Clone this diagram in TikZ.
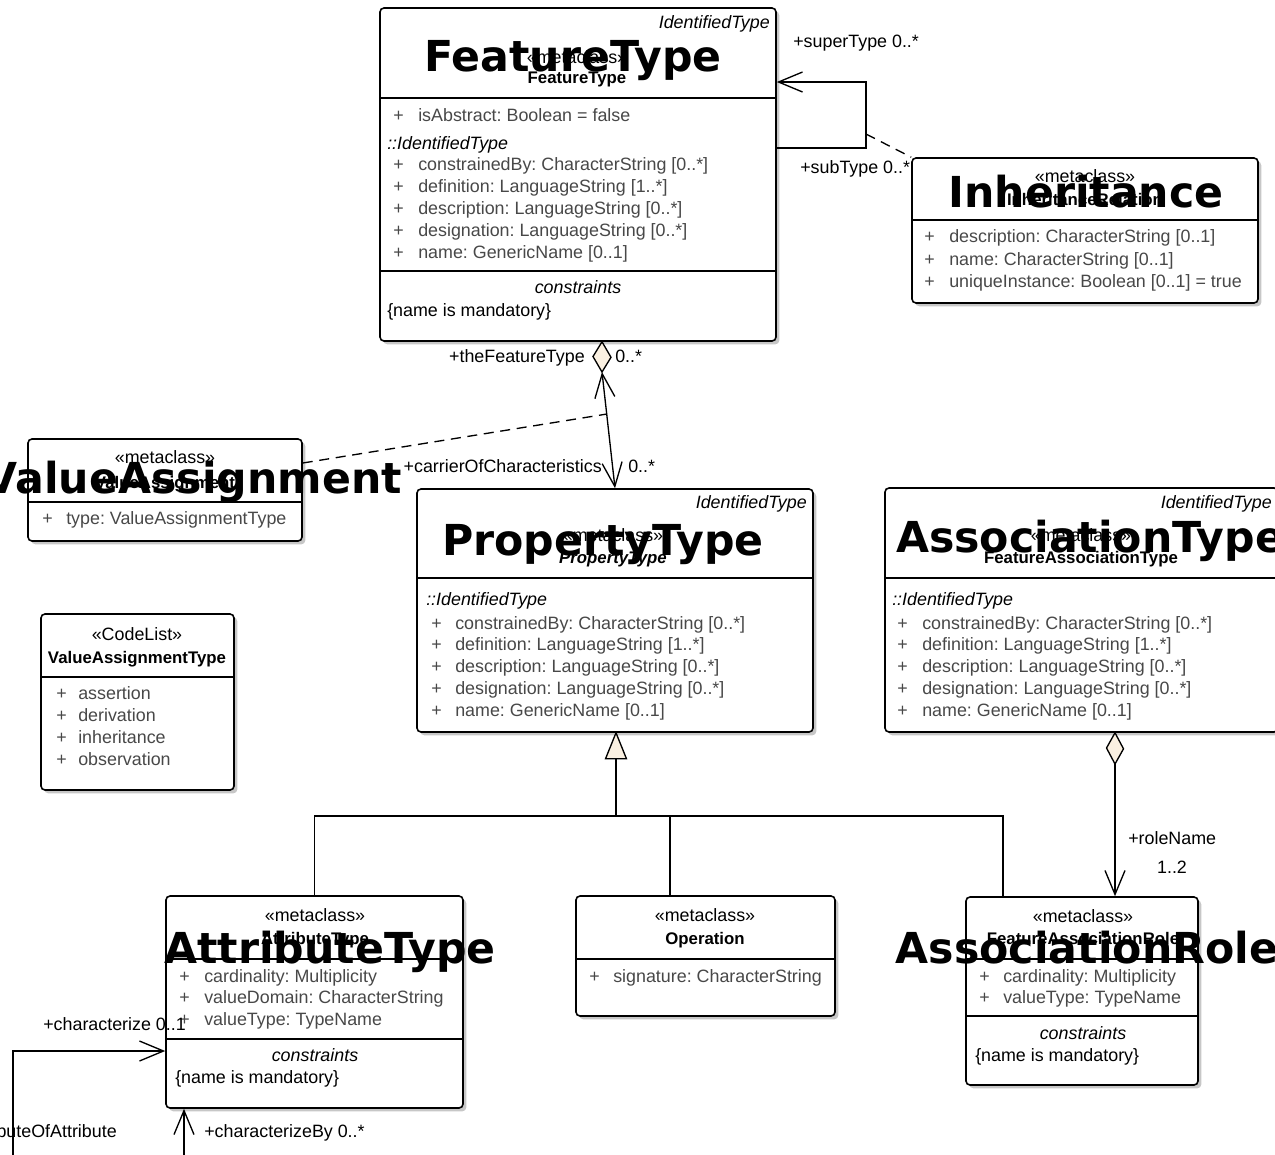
\documentclass[tikz,border=0pt]{standalone}
\usepackage{fontspec}
\setmainfont{Liberation Sans}
\newfontfamily\bigfont{DejaVu Sans}
\usetikzlibrary{fit,shadows,arrows.meta}
\definecolor{cream}{RGB}{250,240,225}
\definecolor{attrgray}{RGB}{72,72,72}
\frenchspacing
\newcommand{\rf}{\fontsize{13.4}{15}\selectfont}
\newcommand{\bfnt}{\fontsize{12.6}{15}\selectfont\bfseries}
\tikzset{
  cls/.style={draw, line width=1.2pt, fill=white, rounded corners=3pt, inner sep=0pt,
    drop shadow={shadow xshift=2.5pt,shadow yshift=-2.5pt,fill=black!22,opacity=1}},
  divl/.style={line width=1pt},
  txt/.style={inner sep=0pt, font=\rf},
  attr/.style={txt, text=attrgray, anchor=base west},
  lbl/.style={txt, anchor=base west},
  ctr/.style={txt, anchor=base},
  bigtxt/.style={inner sep=0pt, anchor=base, font=\bigfont\bfseries\fontsize{32}{38}\selectfont},
  conn/.style={line width=1pt},
  dconn/.style={line width=1pt, dash pattern=on 7.5pt off 5pt},
  barb/.tip={Straight Barb[length=18pt,width=15pt,line width=1pt]}
}
\newcommand{\crow}[5]{%
  \node[attr] (#1p) at (#2,#4) {+};
  \node[attr] (#1) at (#3,#4) {#5};}
\begin{document}
\begin{tikzpicture}[x=0.75pt,y=-0.75pt]
\useasboundingbox (0,0) rectangle (1275,1154);
\clip (0,0) rectangle (1275,1154);

% ---------- class boxes ----------
\node[cls, fit={(380,8) (776,341)}] (ft) {};
\node[cls, fit={(912,158) (1258,303)}] (inh) {};
\node[cls, fit={(28,439) (302,541)}] (va) {};
\node[cls, fit={(417,489) (813,732)}] (pt) {};
\node[cls, fit={(885,488) (1278,732)}] (at) {};
\node[cls, fit={(41,614) (234,790)}] (vat) {};
\node[cls, fit={(166,896) (463,1108)}] (atr) {};
\node[cls, fit={(576,896) (835,1016)}] (op) {};
\node[cls, fit={(966,897) (1198,1085)}] (far) {};

% ---------- dividers ----------
\draw[divl] (380,98) -- (776,98);
\draw[divl] (380,271) -- (776,271);
\draw[divl] (912,220) -- (1258,220);
\draw[divl] (28,502) -- (302,502);
\draw[divl] (417,578) -- (813,578);
\draw[divl] (885,578) -- (1278,578);
\draw[divl] (41,677) -- (234,677);
\draw[divl] (166,959) -- (463,959);
\draw[divl] (166,1039) -- (463,1039);
\draw[divl] (576,959) -- (835,959);
\draw[divl] (966,959) -- (1198,959);
\draw[divl] (966,1016) -- (1198,1016);

% ---------- FeatureType ----------
\node[txt, anchor=base east, font=\rf\itshape] (ftid) at (770,28) {IdentifiedType};
\node[ctr] (ftst) at (577,63) {«metaclass»};
\node[ctr, font=\bfnt] (ftnm) at (577,83) {FeatureType};
\crow{fta}{393}{418}{121}{isAbstract: Boolean = false}
\node[lbl, font=\rf\itshape] (ftit) at (387,149) {::IdentifiedType};
\crow{ftb}{393}{418}{170}{constrainedBy: CharacterString [0..*]}
\crow{ftc}{393}{418}{192}{definition: LanguageString [1..*]}
\crow{ftd}{393}{418}{214}{description: LanguageString [0..*]}
\crow{fte}{393}{418}{236}{designation: LanguageString [0..*]}
\crow{ftf}{393}{418}{258}{name: GenericName [0..1]}
\node[ctr, font=\rf\itshape] (ftcs) at (578,293) {constraints};
\node[lbl] (ftcn) at (387,316) {\{name is mandatory\}};

% ---------- Inheritance ----------
\node[ctr] (inhst) at (1085,182) {«metaclass»};
\node[ctr, font=\bfnt] (inhnm) at (1085,205) {InheritanceRelation};
\crow{inha}{924}{949}{242}{description: CharacterString [0..1]}
\crow{inhb}{924}{949}{265}{name: CharacterString [0..1]}
\crow{inhc}{924}{949}{287}{uniqueInstance: Boolean [0..1] = true}

% ---------- ValueAssignment ----------
\node[ctr] (vast) at (165,463) {«metaclass»};
\node[ctr, font=\bfnt] (vanm) at (165,488) {ValueAssignment};
\crow{vaa}{42}{66}{524}{type: ValueAssignmentType}

% ---------- PropertyType ----------
\node[txt, anchor=base east, font=\rf\itshape] (ptid) at (807,508) {IdentifiedType};
\node[ctr] (ptst) at (613,541) {«metaclass»};
\node[ctr, font=\bfnt\itshape] (ptnm) at (613,563) {PropertyType};
\node[lbl, font=\rf\itshape] (ptit) at (426,605) {::IdentifiedType};
\crow{pta}{431}{455}{629}{constrainedBy: CharacterString [0..*]}
\crow{ptb}{431}{455}{650}{definition: LanguageString [1..*]}
\crow{ptc}{431}{455}{672}{description: LanguageString [0..*]}
\crow{ptd}{431}{455}{694}{designation: LanguageString [0..*]}
\crow{pte}{431}{455}{716}{name: GenericName [0..1]}

% ---------- FeatureAssociationType ----------
\node[txt, anchor=base east, font=\rf\itshape] (atid) at (1272,508) {IdentifiedType};
\node[ctr] (atst) at (1081,541) {«metaclass»};
\node[ctr, font=\bfnt] (atnm) at (1081,563) {FeatureAssociationType};
\node[lbl, font=\rf\itshape] (atit) at (892,605) {::IdentifiedType};
\crow{ata}{897}{922}{629}{constrainedBy: CharacterString [0..*]}
\crow{atb}{897}{922}{650}{definition: LanguageString [1..*]}
\crow{atc}{897}{922}{672}{description: LanguageString [0..*]}
\crow{atd}{897}{922}{694}{designation: LanguageString [0..*]}
\crow{ate}{897}{922}{716}{name: GenericName [0..1]}

% ---------- ValueAssignmentType ----------
\node[ctr] (vatst) at (137,640) {«CodeList»};
\node[ctr, font=\bfnt] (vatnm) at (137,663) {ValueAssignmentType};
\crow{vata}{56}{78}{699}{assertion}
\crow{vatb}{56}{78}{721}{derivation}
\crow{vatc}{56}{78}{743}{inheritance}
\crow{vatd}{56}{78}{765}{observation}

% ---------- AttributeType ----------
\node[ctr] (atrst) at (315,921) {«metaclass»};
\node[ctr, font=\bfnt] (atrnm) at (315,944) {AttributeType};
\crow{atra}{179}{204}{982}{cardinality: Multiplicity}
\crow{atrb}{179}{204}{1003}{valueDomain: CharacterString}
\crow{atrc}{179}{204}{1025}{valueType: TypeName}
\node[ctr, font=\rf\itshape] (atrcs) at (315,1061) {constraints};
\node[lbl] (atrcn) at (175,1083) {\{name is mandatory\}};

% ---------- Operation ----------
\node[ctr] (opst) at (705,921) {«metaclass»};
\node[ctr, font=\bfnt] (opnm) at (705,944) {Operation};
\crow{opa}{589}{613}{982}{signature: CharacterString}

% ---------- FeatureAssociationRole ----------
\node[ctr] (farst) at (1083,922) {«metaclass»};
\node[ctr, font=\bfnt] (farnm) at (1083,944) {FeatureAssociationRole};
\crow{fara}{979}{1003}{982}{cardinality: Multiplicity}
\crow{farb}{979}{1003}{1003}{valueType: TypeName}
\node[ctr, font=\rf\itshape] (farcs) at (1083,1039) {constraints};
\node[lbl] (farcn) at (975,1061) {\{name is mandatory\}};

% ---------- connectors ----------
% FeatureType self association (superType / subType)
\coordinate (sA) at (866,148);
\coordinate (sB) at (866,82);
\coordinate (sM) at (866,134);
\draw[conn, -barb] (ft.east |- sA) -- (sA) -- (sB) -- (ft.east |- sB);
\draw[dconn] (sM) -- (inh.north west);
\node[lbl] (lsup) at (793,47) {+superType 0..*};
\node[lbl] (lsub) at (800,173) {+subType 0..*};

% FeatureType -- PropertyType aggregation
\coordinate (dA) at (602,372);
\draw[conn, fill=cream] (ft.south -| dA) -- ++(9,15.5) -- (dA) -- ++(-9,-15.5) -- cycle;
\draw[conn, barb-barb] (dA) -- (pt.north);
\node[txt, anchor=base east] (lfeat) at (585,362) {+theFeatureType};
\node[lbl] (lfm) at (615,362) {0..*};
\node[txt, anchor=base east] (lcar) at (602,472) {+carrierOfCharacteristics};
\node[lbl] (lcm) at (628,472) {0..*};

% ValueAssignment association class link
\coordinate (vaD) at (302,463);
\coordinate (aM) at (607,414);
\draw[dconn] (va.east |- vaD) -- (aM);

% Generalization tree
\coordinate (tri) at (616,758);
\coordinate (gj) at (616,816);
\coordinate (gop) at (670,816);
\coordinate (gfar) at (1003,816);
\draw[conn, fill=cream] (pt.south -| tri) -- ++(10.5,26) -- ++(-21,0) -- cycle;
\draw[conn] (tri) -- (gj);
\draw[conn] (atr.north) |- (gj) -| (far.north -| gfar);
\draw[conn] (op.north -| gop) -- (gop);

% FeatureAssociationType -- FeatureAssociationRole composition
\coordinate (rl) at (1115,764);
\draw[conn, fill=cream] (at.south -| rl) -- ++(8.5,16) -- (rl) -- ++(-8.5,-16) -- cycle;
\draw[conn, -barb] (rl) -- (far.north -| rl);
\node[lbl] (lrole) at (1128,844) {+roleName};
\node[ctr] (lrm) at (1172,873) {1..2};

% AttributeType self association
\coordinate (aA) at (184,1180);
\coordinate (aB) at (13,1180);
\coordinate (aC) at (13,1051);
\draw[conn, barb-barb] (atr.south -| aA) -- (aA) -- (aB) -- (aC) -- (atr.west |- aC);
\node[lbl] (lchar) at (43,1030) {+characterize 0..1};
\node[lbl] (lcharby) at (204,1137) {+characterizeBy 0..*};
\node[txt, anchor=base east] (lattr) at (117,1137) {+attributeOfAttribute};

% ---------- large overlaid titles ----------
\node[bigtxt] (ftbig) at (573,71) {FeatureType};
\node[bigtxt] (inhbig) at (1086,207) {Inheritance};
\node[bigtxt, anchor=base east] (vabig) at (402,493) {ValueAssignment};
\node[bigtxt] (ptbig) at (603,555) {PropertyType};
\node[bigtxt] (atbig) at (1090,552) {AssociationType};
\node[bigtxt] (atrbig) at (330,963) {AttributeType};
\node[bigtxt] (farbig) at (1087,963) {AssociationRole};
\end{tikzpicture}
\end{document}
